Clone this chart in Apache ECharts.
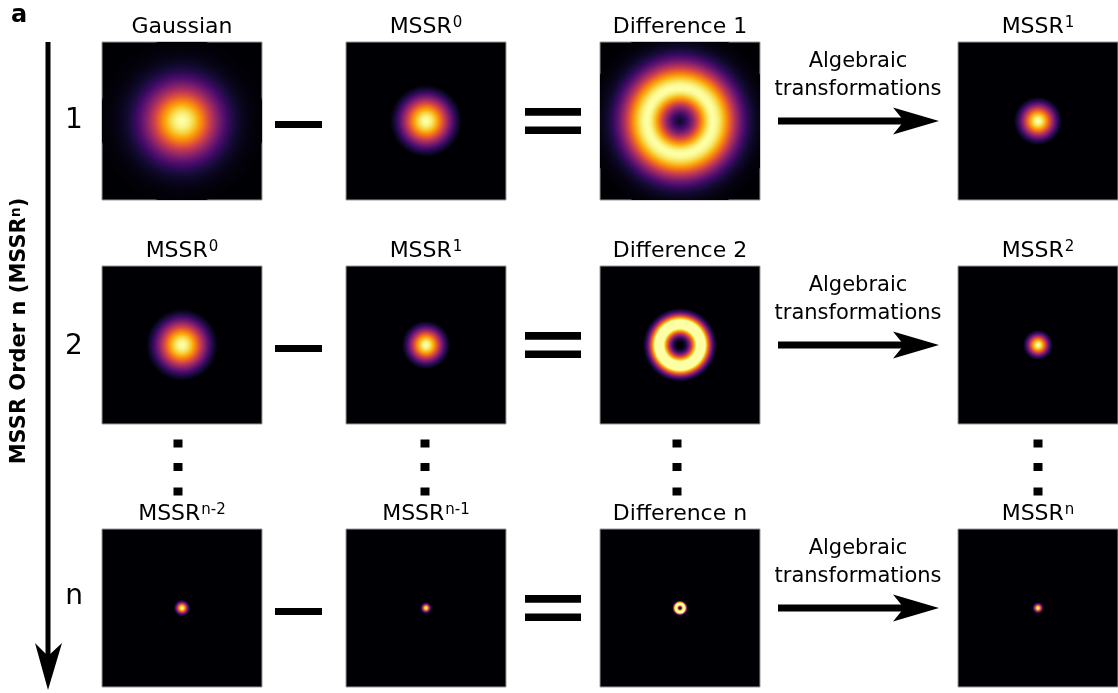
<!DOCTYPE html>
<html><head><meta charset="utf-8">
<script src="https://cdn.jsdelivr.net/npm/echarts@6/dist/echarts.min.js"></script>
<style>html,body{margin:0;padding:0;background:#fff}#c{width:1118px;height:693px}</style>
</head><body><div id="c"></div>
<script>
// ---- data ----
const rowNames = ['1', '2', 'n'];
const titleBase = [
  ['Gaussian', 'MSSR', 'Difference 1', 'MSSR'],
  ['MSSR', 'MSSR', 'Difference 2', 'MSSR'],
  ['MSSR', 'MSSR', 'Difference n', 'MSSR']
];
const titleSup = [
  ['', '0', '', '1'],
  ['0', '1', '', '2'],
  ['n-2', 'n-1', '', 'n']
];
// radius of the bright ring (0 = centred spot), panel pixel units (panel spans -80..80)
const ringRadius = [
  [0, 0, 33, 0],
  [0, 0, 21, 0],
  [0, 0, 4, 0]
];
// profile width inside the peak
const spotSigmaIn = [
  [25, 18.5, 14.5, 12.5],
  [18.5, 12.5, 8, 7.8],
  [4.3, 3, 1.7, 3]
];
// profile width outside the peak
const spotSigmaOut = [
  [25, 18.5, 18, 12.5],
  [18.5, 12.5, 7.2, 7.8],
  [4.3, 3, 1.8, 3]
];
// truncation level of each profile
const spotCut = [
  [0, 0.15, 0, 0.15],
  [0.15, 0.15, 0.08, 0.15],
  [0.15, 0.15, 0.1, 0.15]
];
// display gain (saturation) of each profile
const spotGain = [
  [1, 1, 1, 1],
  [1, 1, 1.2, 1],
  [1, 1, 1.3, 1]
];
const axisLabel = 'MSSR Order n (MSSR';
const axisLabelSup = 'n';
const arrowText = ['Algebraic', 'transformations'];

// ---- layout ----
const colLeft = [102, 346, 600, 958];
const rowTop = [42, 266, 529];
const PW = 160, PH = 158;
const rowCenter = rowTop.map(t => t + PH / 2);

const inf = ['#000004','#160b39','#420a68','#6a176e','#932667','#bc3754','#dd513a','#f37819','#fca50a','#f6d746','#fcffa4'];
const infRGB = inf.map(h => [parseInt(h.slice(1,3),16), parseInt(h.slice(3,5),16), parseInt(h.slice(5,7),16)]);
function inferno(v) {
  v = Math.max(0, Math.min(1, v));
  const p = v * 10, i = Math.min(9, Math.floor(p)), f = p - i;
  const a = infRGB[i], b = infRGB[i + 1];
  return 'rgb(' + [0,1,2].map(k => Math.round(a[k] + (b[k] - a[k]) * f)).join(',') + ')';
}
function profile(r, r0, wIn, wOut, cut, gain) {
  const w = r < r0 ? wIn : wOut;
  const d = r - r0;
  const p = Math.exp(-d * d / (2 * w * w));
  return Math.max(0, Math.min(1, gain * (p - cut) / (1 - cut)));
}
function makeRender(cut, gain) {
  return function (params, api) {
    const r0 = api.value(2), wIn = api.value(3), wOut = api.value(4);
    const c = api.coord([api.value(0), api.value(1)]);
    const k = cut > 0 ? Math.sqrt(2 * Math.log(1 / cut)) * 1.05 : 3.3;
    const ext = r0 + wOut * k;
    const R = api.size([ext, 0])[0];
    const N = 80, stops = [];
    for (let j = 0; j <= N; j++) {
      const t = j / N;
      stops.push({ offset: t, color: inferno(profile(t * ext, r0, wIn, wOut, cut, gain)) });
    }
    return { type: 'circle', shape: { cx: c[0], cy: c[1], r: R },
      style: { fill: { type: 'radial', x: 0.5, y: 0.5, r: 0.5, colorStops: stops } } };
  };
}

const grids = [], xAxes = [], yAxes = [], series = [], graphics = [];
const FONT = '"DejaVu Sans", sans-serif';
for (let r = 0; r < 3; r++) {
  for (let c = 0; c < 4; c++) {
    const i = r * 4 + c;
    grids.push({ left: colLeft[c], top: rowTop[r], width: PW, height: PH, show: true,
      backgroundColor: '#000004', borderColor: '#9a9a9a', borderWidth: 1 });
    xAxes.push({ gridIndex: i, type: 'value', min: -80, max: 80, show: false });
    yAxes.push({ gridIndex: i, type: 'value', min: -79, max: 79, show: false });
    series.push({ type: 'custom', xAxisIndex: i, yAxisIndex: i, clip: true, silent: true,
      renderItem: makeRender(spotCut[r][c], spotGain[r][c]),
      data: [[0, 0, ringRadius[r][c], spotSigmaIn[r][c], spotSigmaOut[r][c]]] });
    // title
    const sup = titleSup[r][c];
    graphics.push({ type: 'text', x: colLeft[c] + PW / 2, y: rowTop[r] - 15,
      style: { text: sup ? '{b|' + titleBase[r][c] + '}{s|' + sup + '}' : '{b|' + titleBase[r][c] + '}',
        align: 'center', verticalAlign: 'middle', fill: '#000',
        rich: { b: { fontSize: 22, fontFamily: FONT, fill: '#000' },
                s: { fontSize: 15, fontFamily: FONT, fill: '#000', verticalAlign: 'top', padding: [0, 0, 0, 1] } } } });
  }
  const yc = rowCenter[r];
  // row label
  graphics.push({ type: 'text', x: 74, y: r === 2 ? 597 : (r === 1 ? yc + 2 : yc),
    style: { text: rowNames[r], fontSize: 28, fontFamily: FONT, fill: '#000', align: 'center', verticalAlign: 'middle' } });
  // minus
  graphics.push({ type: 'rect', shape: { x: 275, y: yc, width: 47, height: 7 }, style: { fill: '#000' } });
  // equals
  graphics.push({ type: 'rect', shape: { x: 525, y: yc - 13, width: 56, height: 7.7 }, style: { fill: '#000' } });
  graphics.push({ type: 'rect', shape: { x: 525, y: yc + 5.4, width: 56, height: 7.7 }, style: { fill: '#000' } });
  // arrow
  graphics.push({ type: 'rect', shape: { x: 778, y: yc - 3.5, width: 128, height: 7 }, style: { fill: '#000' } });
  graphics.push({ type: 'polygon', shape: { points: [[893, yc - 13.5], [939, yc], [893, yc + 13.5], [904, yc]] }, style: { fill: '#000' } });
  graphics.push({ type: 'text', x: 858, y: yc - 59, style: { text: arrowText[0], fontSize: 21, fontFamily: FONT, fill: '#000', align: 'center', verticalAlign: 'middle' } });
  graphics.push({ type: 'text', x: 858, y: yc - 31, style: { text: arrowText[1], fontSize: 21, fontFamily: FONT, fill: '#000', align: 'center', verticalAlign: 'middle' } });
}
// vertical dots
[178, 425, 677, 1038].forEach(x => {
  [443.5, 467, 491.5].forEach(y => {
    graphics.push({ type: 'rect', shape: { x: x - 4.5, y: y - 4, width: 9, height: 8 }, style: { fill: '#000' } });
  });
});
// vertical arrow
graphics.push({ type: 'rect', shape: { x: 45.5, y: 42, width: 5, height: 615 }, style: { fill: '#000' } });
graphics.push({ type: 'polygon', shape: { points: [[35, 643], [48, 690], [62, 643], [48, 656]] }, style: { fill: '#000' } });
// rotated axis label
graphics.push({ type: 'text', x: 20, y: 331, rotation: Math.PI / 2,
  style: { text: '{b|' + axisLabel + '}{s|' + axisLabelSup + '}{b|)}', align: 'center', verticalAlign: 'middle',
    rich: { b: { fontSize: 21, fontWeight: 'bold', fontFamily: FONT, fill: '#000' },
            s: { fontSize: 14, fontWeight: 'bold', fontFamily: FONT, fill: '#000', verticalAlign: 'top' } } } });
// panel letter
graphics.push({ type: 'text', x: 11, y: 16, style: { text: 'a', fontSize: 24, fontWeight: 'bold', fontFamily: FONT, fill: '#000', align: 'left', verticalAlign: 'middle' } });

const chart = echarts.init(document.getElementById('c'), null, { renderer: 'canvas' });
chart.setOption({ animation: false, backgroundColor: '#fff', grid: grids, xAxis: xAxes, yAxis: yAxes, series: series, graphic: graphics });
</script></body></html>
